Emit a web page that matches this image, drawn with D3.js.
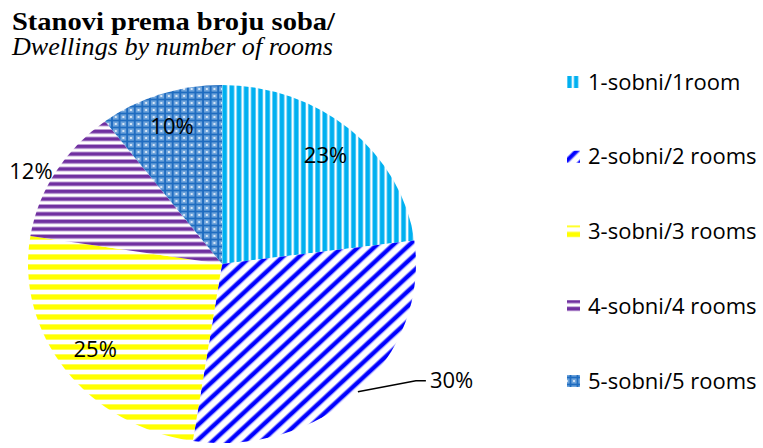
<!DOCTYPE html>
<html>
<head>
<meta charset="utf-8">
<script src="https://cdn.jsdelivr.net/npm/d3@7"></script>
<style>
  body { margin: 0; background: #fff; }
  svg { display: block; }
</style>
</head>
<body>
<div id="chart"></div>
<script>
// Data
var categories = ["1-sobni/1room", "2-sobni/2 rooms", "3-sobni/3 rooms", "4-sobni/4 rooms", "5-sobni/5 rooms"];
var shares = [22.9, 29.5, 25.1, 12.2, 10.3];
var percentLabels = ["23%", "30%", "25%", "12%", "10%"];
var titleLines = ["Stanovi prema broju soba/", "Dwellings by number of rooms"];

(function() {
  var width = 763, height = 448;
  var cx = 222, cy = 264, rx = 194, ry = 179;

  var svg = d3.select("#chart").append("svg")
    .attr("width", width)
    .attr("height", height);

  var defs = svg.append("defs");

  // 1 room: vertical light blue stripes
  var p1 = defs.append("pattern").attr("id", "pat0")
    .attr("patternUnits", "userSpaceOnUse").attr("width", 6.6).attr("height", 10);
  p1.append("rect").attr("width", 6.6).attr("height", 10).attr("fill", "#ffffff");
  p1.append("rect").attr("x", 0).attr("width", 5).attr("height", 10).attr("fill", "#a6e2fa");
  p1.append("rect").attr("x", 0.5).attr("width", 4).attr("height", 10).attr("fill", "#00b0f0");

  // 2 rooms: diagonal blue stripes
  var p2 = defs.append("pattern").attr("id", "pat1")
    .attr("patternUnits", "userSpaceOnUse").attr("width", 10.6).attr("height", 10)
    .attr("patternTransform", "rotate(45)");
  p2.append("rect").attr("width", 10.6).attr("height", 10).attr("fill", "#ffffff");
  p2.append("rect").attr("x", 0).attr("width", 5.5).attr("height", 10).attr("fill", "#9a9aff");
  p2.append("rect").attr("x", 1).attr("width", 3.5).attr("height", 10).attr("fill", "#0000ff");

  // 3 rooms: horizontal yellow stripes
  var p3 = defs.append("pattern").attr("id", "pat2")
    .attr("patternUnits", "userSpaceOnUse").attr("width", 10).attr("height", 10);
  p3.append("rect").attr("width", 10).attr("height", 10).attr("fill", "#ffffff");
  p3.append("rect").attr("y", 0).attr("width", 10).attr("height", 6).attr("fill", "#ffffb0");
  p3.append("rect").attr("y", 0.5).attr("width", 10).attr("height", 5).attr("fill", "#ffff00");

  // 4 rooms: horizontal purple stripes
  var p4 = defs.append("pattern").attr("id", "pat3")
    .attr("patternUnits", "userSpaceOnUse").attr("width", 10).attr("height", 7.5);
  p4.append("rect").attr("width", 10).attr("height", 7.5).attr("fill", "#ffffff");
  p4.append("rect").attr("y", 0).attr("width", 10).attr("height", 5).attr("fill", "#cdb4e0");
  p4.append("rect").attr("y", 0.8).attr("width", 10).attr("height", 3.4).attr("fill", "#7030a0");

  // 5 rooms: blue lattice
  var p5 = defs.append("pattern").attr("id", "pat4")
    .attr("patternUnits", "userSpaceOnUse").attr("width", 7).attr("height", 7);
  p5.append("rect").attr("width", 7).attr("height", 7).attr("fill", "#6ea4dc");
  p5.append("rect").attr("x", 0).attr("y", 2.6).attr("width", 7).attr("height", 1.8).attr("fill", "#1f6cc0");
  p5.append("rect").attr("x", 2.6).attr("y", 0).attr("width", 1.8).attr("height", 7).attr("fill", "#1f6cc0");
  [[0, 0], [7, 0], [0, 7], [7, 7]].forEach(function(c) {
    p5.append("circle").attr("cx", c[0]).attr("cy", c[1]).attr("r", 1.1).attr("fill", "#e6f0fa");
  });

  var data = categories.map(function(c, i) {
    return {name: c, value: shares[i], label: percentLabels[i], i: i};
  });

  var pie = d3.pie().sort(null).value(function(d) { return d.value; });
  var arcs = pie(data);

  var arc = d3.arc().innerRadius(0).outerRadius(ry);

  // Pie is slightly wider than tall in the original
  var g = svg.append("g")
    .attr("transform", "translate(" + cx + "," + cy + ") scale(" + (rx / ry) + ",1)");

  g.selectAll("path.slice")
    .data(arcs)
    .enter().append("path")
      .attr("class", "slice")
      .attr("d", arc)
      .attr("fill", function(d) { return "url(#pat" + d.data.i + ")"; });

  // point on the ellipse at angle a, fraction k of the radius
  function pt(a, k) {
    return [cx + rx * k * Math.sin(a), cy - ry * k * Math.cos(a)];
  }
  function mid(d) { return (d.startAngle + d.endAngle) / 2; }

  var labelFont = "'Open Sans', 'DejaVu Sans', sans-serif";

  arcs.forEach(function(d) {
    var i = d.data.i;
    if (i === 1) {
      // outside label with leader line
      var p0 = pt(mid(d), 1.0);
      var p1 = [p0[0] + 58, p0[1] - 11];
      var p2 = [p1[0] + 10, p1[1]];
      svg.append("path")
        .attr("d", "M" + p0 + "L" + p1 + "L" + p2)
        .attr("fill", "none")
        .attr("stroke", "#000")
        .attr("stroke-width", 1.3);
      svg.append("text")
        .attr("x", p2[0] + 4).attr("y", p2[1])
        .attr("dy", "0.35em")
        .style("font-family", labelFont).style("font-size", "22px")
        .attr("text-anchor", "start")
        .text(d.data.label);
    } else if (i === 3) {
      var q = pt(mid(d), 1.03);
      svg.append("text")
        .attr("x", q[0] + 2).attr("y", q[1] + 2)
        .attr("dy", "0.35em")
        .style("font-family", labelFont).style("font-size", "22px")
        .attr("text-anchor", "end")
        .text(d.data.label);
    } else {
      var c = pt(mid(d), 0.81);
      svg.append("text")
        .attr("x", c[0]).attr("y", c[1])
        .attr("dy", "0.35em")
        .style("font-family", labelFont).style("font-size", "22px")
        .attr("text-anchor", "middle")
        .text(d.data.label);
    }
  });

  // Title
  svg.append("text")
    .attr("x", 12).attr("y", 30)
    .style("font-family", "'Liberation Serif', 'DejaVu Serif', serif")
    .style("font-weight", "bold")
    .style("font-size", "25px")
    .attr("textLength", 323).attr("lengthAdjust", "spacingAndGlyphs")
    .text(titleLines[0]);
  svg.append("text")
    .attr("x", 12).attr("y", 55)
    .style("font-family", "'Liberation Serif', 'DejaVu Serif', serif")
    .style("font-style", "italic")
    .style("font-size", "25px")
    .attr("textLength", 321).attr("lengthAdjust", "spacingAndGlyphs")
    .text(titleLines[1]);

  // Legend
  var legendY = d3.scalePoint().domain(categories).range([82, 381]);
  var legend = svg.append("g").selectAll("g")
    .data(data)
    .enter().append("g")
      .attr("transform", function(d) { return "translate(567," + legendY(d.name) + ")"; });
  legend.append("rect")
    .attr("x", 0).attr("y", -6).attr("width", 13).attr("height", 12)
    .attr("fill", function(d) { return "url(#pat" + d.i + ")"; });
  legend.append("text")
    .attr("x", 21).attr("y", 0).attr("dy", "0.35em")
    .style("font-family", labelFont).style("font-size", "22px")
    .text(function(d) { return d.name; });
})();
</script>
</body>
</html>
